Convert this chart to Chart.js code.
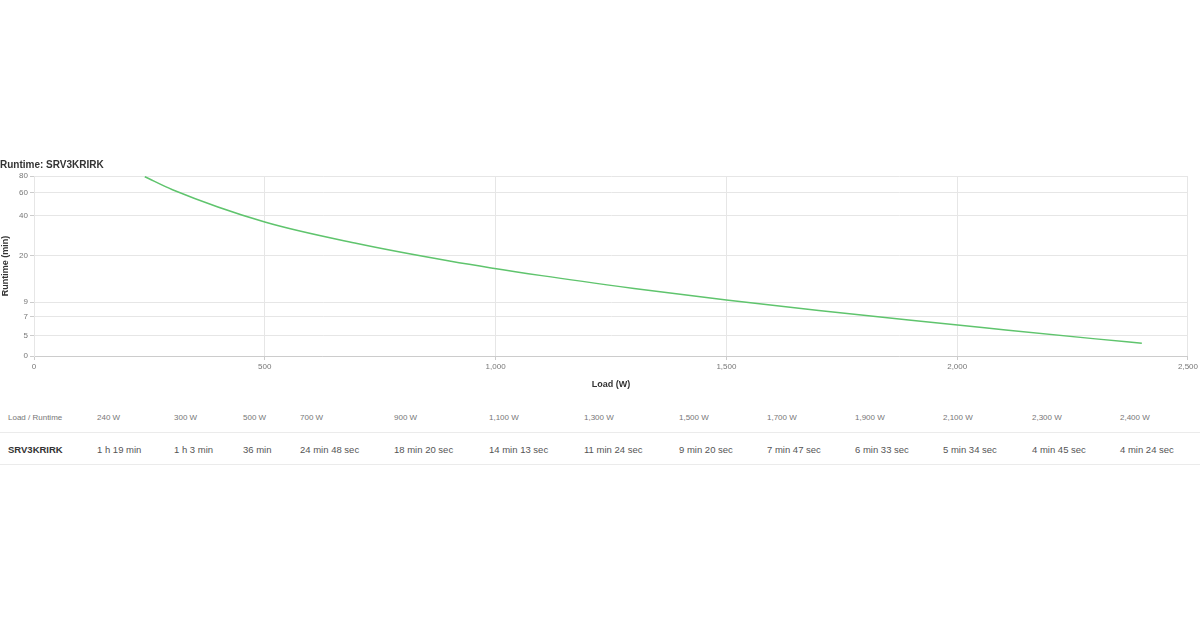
<!DOCTYPE html>
<html>
<head>
<meta charset="utf-8">
<script src="https://cdn.jsdelivr.net/npm/chart.js@4.4.0/dist/chart.umd.min.js"></script>
<style>
  body { margin: 0; background: #fff; font-family: "Liberation Sans", Arial, sans-serif; }
  #wrap { position: absolute; left: 0; top: 159px; width: 1200px; height: 231px; }
  #rt { position: absolute; left: 0; top: 401px; width: 1200px; }
  .row { position: relative; width: 1200px; border-bottom: 1px solid #ebebeb; }
  .row span { position: absolute; white-space: nowrap; }
  .head { height: 31px; font-size: 8px; color: #777; }
  .head span { top: 12px; }
  .data { height: 31px; font-size: 9.5px; color: #555; }
  .data span { top: 11px; }
</style>
</head>
<body>
<div id="wrap"><canvas id="my-chart"></canvas></div>
<div id="rt">
  <div class="row head" id="head-row"></div>
  <div class="row data" id="data-row"></div>
</div>
<script>
'use strict'
///data///
let loads = [240, 300, 500, 700, 900, 1100, 1300, 1500, 1700, 1900, 2100, 2300, 2400]//watts
let runtimeMin = [79, 63, 36, 24.8, 18.33, 14.22, 11.4, 9.33, 7.78, 6.55, 5.57, 4.75, 4.4]//minutes
let runtimeText = ['1 h 19 min', '1 h 3 min', '36 min', '24 min 48 sec', '18 min 20 sec', '14 min 13 sec',
  '11 min 24 sec', '9 min 20 sec', '7 min 47 sec', '6 min 33 sec', '5 min 34 sec', '4 min 45 sec', '4 min 24 sec']
let yTickValues = [3.53, 5, 7, 9, 20, 40, 60, 80]
let yTickLabels = ['0', '5', '7', '9', '20', '40', '60', '80']
let xTickValues = [0, 500, 1000, 1500, 2000, 2500]
let model = 'SRV3KRIRK'

///table under the chart///
let colX = [97, 174, 243, 300, 394, 489, 584, 679, 767, 855, 943, 1032, 1120]//left edge of each column
let headRow = document.getElementById('head-row')
let dataRow = document.getElementById('data-row')

function addCell(row, text, x, bold) {
  let s = document.createElement('span')
  s.textContent = text
  s.style.left = x + 'px'
  if (bold) { s.style.fontWeight = 'bold'; s.style.color = '#333' }
  row.appendChild(s)
}
addCell(headRow, 'Load / Runtime', 8)
addCell(dataRow, model, 8, true)
for (let i = 0; i < loads.length; i++) {
  addCell(headRow, loads[i].toLocaleString('en-US') + ' W', colX[i])
  addCell(dataRow, runtimeText[i], colX[i])
}

///chart///
let points = []
for (let i = 0; i < loads.length; i++) {
  points.push({ x: loads[i], y: runtimeMin[i] })
}

let ctx = document.getElementById('my-chart').getContext('2d')
Chart.defaults.font.family = '"Liberation Sans", Arial, sans-serif'

let chartObject = {
  type: 'line',
  data: {
    datasets: [{
      label: model,
      data: points,
      borderColor: '#5fc46d',
      borderWidth: 1.5,
      pointRadius: 0,
      cubicInterpolationMode: 'monotone',
      fill: false
    }]
  },
  options: {
    responsive: true,
    maintainAspectRatio: false,
    animation: false,
    layout: { padding: { left: 0, right: 12, top: 0, bottom: 0 } },
    plugins: {
      legend: { display: false },
      tooltip: { enabled: false },
      title: {
        display: true,
        text: 'Runtime: ' + model,
        align: 'start',
        color: '#333',
        font: { size: 10, weight: 'bold' },
        padding: { top: 0, bottom: 5 }
      }
    },
    scales: {
      x: {
        type: 'linear',
        min: 0,
        max: 2500,
        afterBuildTicks: s => { s.ticks = xTickValues.map(v => ({ value: v })) },
        afterFit: s => { s.height = 34 },
        grid: { color: '#e6e6e6', tickLength: 4, tickColor: '#ccc' },
        border: { color: '#ccc' },
        ticks: {
          color: '#777',
          font: { size: 8 },
          padding: 2,
          maxRotation: 0,
          callback: v => v.toLocaleString('en-US')
        },
        title: {
          display: true,
          text: 'Load (W)',
          color: '#333',
          font: { size: 9, weight: 'bold' },
          padding: { top: 4, bottom: 0 }
        }
      },
      y: {
        type: 'logarithmic',
        min: yTickValues[0],
        max: 80,
        afterBuildTicks: s => { s.ticks = yTickValues.map(v => ({ value: v })) },
        afterFit: s => { s.width = 34 },
        grid: { color: '#e6e6e6', tickLength: 4, tickColor: '#ccc' },
        border: { color: '#e6e6e6' },
        ticks: {
          color: '#777',
          font: { size: 8 },
          padding: 2,
          callback: function (v, i) { return yTickLabels[i] }
        },
        title: {
          display: true,
          text: 'Runtime (min)',
          color: '#333',
          font: { size: 9, weight: 'bold' },
          padding: { top: 0, bottom: 0 }
        }
      }
    }
  }
}

const myChart = new Chart(ctx, chartObject)
</script>
</body>
</html>
